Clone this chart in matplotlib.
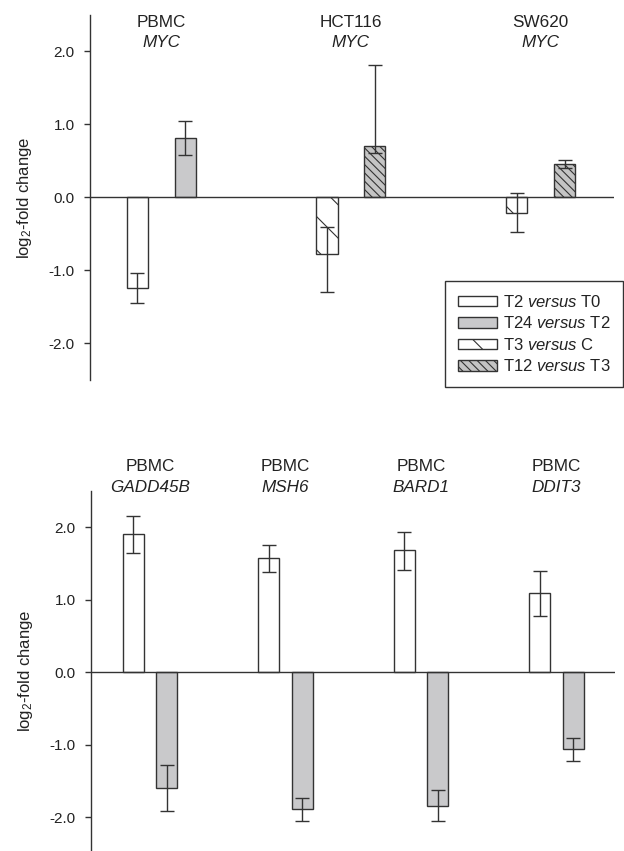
import matplotlib
matplotlib.use("Agg")
import matplotlib.pyplot as plt
from matplotlib.patches import Patch
import numpy as np

# ---- data -------------------------------------------------------------
top_cells = ["PBMC", "HCT116", "SW620"]
top_genes = ["MYC", "MYC", "MYC"]
top_left_kind = ["T2", "T3", "T3"]
top_right_kind = ["T24", "T12", "T12"]
top_left_val = [-1.24, -0.78, -0.21]
top_left_err_lo = [0.21, 0.51, 0.26]
top_left_err_hi = [0.20, 0.37, 0.27]
top_right_val = [0.82, 0.70, 0.46]
top_right_err_lo = [0.24, 0.09, 0.05]
top_right_err_hi = [0.23, 1.12, 0.05]

bot_cells = ["PBMC", "PBMC", "PBMC", "PBMC"]
bot_genes = ["GADD45B", "MSH6", "BARD1", "DDIT3"]
bot_t2_val = [1.91, 1.57, 1.68, 1.09]
bot_t2_err_lo = [0.26, 0.19, 0.27, 0.31]
bot_t2_err_hi = [0.24, 0.19, 0.26, 0.31]
bot_t24_val = [-1.60, -1.885, -1.84, -1.06]
bot_t24_err_lo = [0.32, 0.17, 0.215, 0.16]
bot_t24_err_hi = [0.32, 0.155, 0.21, 0.15]

legend_labels = {
    "T2": r"T2 $\mathit{versus}$ T0",
    "T24": r"T24 $\mathit{versus}$ T2",
    "T3": r"T3 $\mathit{versus}$ C",
    "T12": r"T12 $\mathit{versus}$ T3",
}

# ---- style ------------------------------------------------------------
DARK = "#333333"
STYLE = {
    "T2": dict(facecolor="white", hatch=None),
    "T24": dict(facecolor="#c9c9cb", hatch=None),
    "T3": dict(facecolor="white", hatch="\\"),
    "T12": dict(facecolor="#c4c4c4", hatch="\\\\\\\\"),
}

plt.rcParams["font.family"] = ["Liberation Sans", "DejaVu Sans"]
plt.rcParams["mathtext.fontset"] = "custom"
plt.rcParams["mathtext.rm"] = "Liberation Sans"
plt.rcParams["mathtext.it"] = "Liberation Sans:italic"
plt.rcParams["hatch.color"] = DARK
plt.rcParams["hatch.linewidth"] = 0.8
plt.rcParams["text.color"] = "#222222"

W, H = 624, 851
fig = plt.figure(figsize=(W / 100, H / 100), dpi=100)


def px_axes(left, top, right, bottom):
    return fig.add_axes([left / W, 1 - bottom / H, (right - left) / W, (bottom - top) / H])


def style_axes(ax, ylim):
    ax.set_ylim(*ylim)
    for s in ["top", "right", "bottom"]:
        ax.spines[s].set_visible(False)
    ax.spines["left"].set_color(DARK)
    ax.spines["left"].set_linewidth(1.0)
    ax.set_xticks([])
    ax.set_yticks([-2, -1, 0, 1, 2])
    ax.set_yticklabels(["-2.0", "-1.0", "0.0", "1.0", "2.0"])
    ax.tick_params(axis="y", direction="out", length=4.5, width=1, color=DARK,
                   labelsize=11, labelcolor="#222222", pad=6.5)
    ax.axhline(0, color=DARK, lw=1.0, zorder=4)
    ax.set_ylabel(r"log$_2$-fold change", fontsize=12, color="#222222", labelpad=10.5)


def draw_bars(ax, x, vals, lo, hi, kinds, width):
    for xi, v, l, h, k in zip(x, vals, lo, hi, kinds):
        st = STYLE[k]
        ax.bar(xi, v, width=width, facecolor=st["facecolor"], hatch=st["hatch"],
               edgecolor=DARK, linewidth=1.0, zorder=2)
        ax.errorbar(xi, v, yerr=[[l], [h]], fmt="none", ecolor=DARK,
                    elinewidth=1.0, capsize=5, capthick=1.0, zorder=5)


# ---- top panel --------------------------------------------------------
ax1 = px_axes(90, 15, 613.5, 380)
style_axes(ax1, (-2.5, 2.5))
xg = np.arange(len(top_cells))
ax1.set_xlim(-0.375, 2.384)
draw_bars(ax1, xg - 0.126, top_left_val, top_left_err_lo, top_left_err_hi, top_left_kind, 0.111)
draw_bars(ax1, xg + 0.126, top_right_val, top_right_err_lo, top_right_err_hi, top_right_kind, 0.111)
for xi, c, g in zip(xg, top_cells, top_genes):
    ax1.text(xi, 2.40, c, ha="center", va="center", fontsize=12.3)
    ax1.text(xi, 2.12, g, ha="center", va="center", fontsize=12.3, style="italic")

# ---- bottom panel -----------------------------------------------------
ax2 = px_axes(91, 491, 614.8, 851)
style_axes(ax2, (-2.465, 2.5))
xb = np.arange(len(bot_genes))
ax2.set_xlim(-0.435, 3.430)
draw_bars(ax2, xb - 0.124, bot_t2_val, bot_t2_err_lo, bot_t2_err_hi, ["T2"] * 4, 0.153)
draw_bars(ax2, xb + 0.124, bot_t24_val, bot_t24_err_lo, bot_t24_err_hi, ["T24"] * 4, 0.153)
for xi, c, g in zip(xb, bot_cells, bot_genes):
    ax2.text(xi, 2.835, c, ha="center", va="center", fontsize=12.3, clip_on=False)
    ax2.text(xi, 2.55, g, ha="center", va="center", fontsize=12.3, style="italic", clip_on=False)

# ---- legend -----------------------------------------------------------
handles = [Patch(facecolor=STYLE[k]["facecolor"], hatch=STYLE[k]["hatch"],
                 edgecolor=DARK, linewidth=1.0, label=legend_labels[k])
           for k in ["T2", "T24", "T3", "T12"]]
leg = fig.legend(handles=handles, loc="upper left",
                 bbox_to_anchor=(445 / W, 1 - 281 / H), borderaxespad=0,
                 fontsize=12, frameon=True, fancybox=False, framealpha=1,
                 edgecolor=DARK, handlelength=2.35, handleheight=0.6,
                 handletextpad=0.35, labelspacing=0.33, borderpad=0.76)
leg.get_frame().set_linewidth(1.0)

fig.savefig("out.png", dpi=100)
